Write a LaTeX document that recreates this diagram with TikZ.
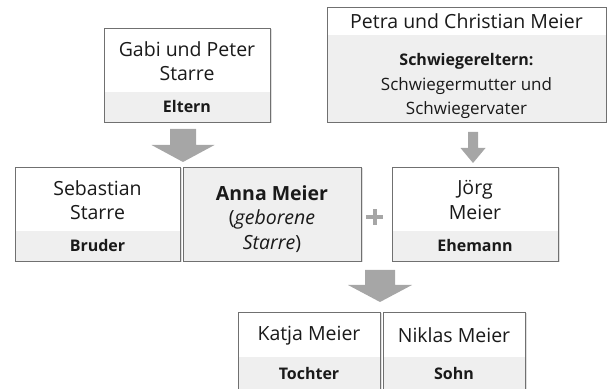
\documentclass[tikz,border=0pt]{standalone}
\usepackage{fontspec}
\setmainfont{Open Sans}
\usetikzlibrary{shadows}
\definecolor{framegray}{HTML}{707070}
\definecolor{bandgray}{HTML}{EFEFEF}
\definecolor{arrowgray}{HTML}{A6A6A6}
\definecolor{textblack}{HTML}{1A1A1A}
\tikzset{
  box/.style={draw=framegray, line width=0.8pt, fill=white, inner sep=0, outer sep=0,
    drop shadow={shadow xshift=1.5pt, shadow yshift=-1.5pt, opacity=0.25},
    path picture={\fill[bandgray] (path picture bounding box.south west)
      rectangle ([yshift=#1]path picture bounding box.south east);}},
  box/.default=30,
  person/.style={align=center, text=textblack, font=\fontsize{19.5}{24.5}\selectfont},
  role/.style={align=center, text=textblack, font=\fontsize{16}{24.5}\selectfont\bfseries},
  grayarrow/.style={fill=arrowgray},
  plusline/.style={draw=arrowgray, line width=4pt}
}
\begin{document}
\begin{tikzpicture}[x=1pt,y=1pt]
    \useasboundingbox (0,0) rectangle (607,388);
    % grandparents
    \node[box, minimum width=166, minimum height=94] (gabi) at (187,313) {};
    \node[person] (gabi-name) at ([yshift=14]gabi.center) {Gabi und Peter\\Starre};
    \node[role] (gabi-role) at ([yshift=15]gabi.south) {Eltern};
    \node[box=87, minimum width=279, minimum height=115] (petra) at (466.5,323.5) {};
    \node[person] (petra-name) at ([yshift=-14]petra.north) {Petra und Christian Meier};
    \node[person, font=\fontsize{17}{24.5}\selectfont] (petra-role) at ([yshift=36]petra.south)
        {\fontsize{16}{24.5}\selectfont\bfseries Schwiegereltern:\\Schwiegermutter und\\Schwiegervater};
    % middle row
    \node[box, minimum width=165, minimum height=94] (sebastian) at (97.5,174) {};
    \node[person] (sebastian-name) at ([yshift=14]sebastian.center) {Sebastian\\Starre};
    \node[role] (sebastian-role) at ([yshift=15]sebastian.south) {Bruder};
    \node[box, fill=bandgray, minimum width=178, minimum height=94] (anna) at (272,174) {};
    \node[person] (anna-name) at ([yshift=-5]anna.center) {\textbf{Anna Meier}\\(\textit{geborene}\\\textit{Starre})};
    \node[box, minimum width=166, minimum height=94] (joerg) at (475,174) {};
    \node[person] (joerg-name) at ([yshift=14]joerg.center) {Jörg\\Meier};
    \node[role] (joerg-role) at ([yshift=15]joerg.south) {Ehemann};
    % children
    \node[box=32, minimum width=142, minimum height=77] (katja) at (309,37.5) {};
    \node[person] (katja-name) at ([yshift=15]katja.center) {Katja Meier};
    \node[role] (katja-role) at ([yshift=16]katja.south) {Tochter};
    \node[box=32, minimum width=142, minimum height=77] (niklas) at (454,37.5) {};
    \node[person] (niklas-name) at ([yshift=15]niklas.center) {Niklas Meier};
    \node[role] (niklas-role) at ([yshift=16]niklas.south) {Sohn};
    % arrows and plus
    \coordinate (tip-starre) at (183,226);
    \coordinate (tip-meier) at (473,225);
    \coordinate (tip-kids) at (380,86);
    \fill[grayarrow] (tip-starre) -- ++(31.5,17) -- ++(-18.5,0) -- ++(0,16) -- ++(-26,0)
        -- ++(0,-16) -- ++(-18.5,0) -- cycle;
    \fill[grayarrow] (tip-meier) -- ++(12.5,15) -- ++(-7.5,0) -- ++(0,16) -- ++(-10,0)
        -- ++(0,-16) -- ++(-7.5,0) -- cycle;
    \fill[grayarrow] (tip-kids) -- ++(32,17) -- ++(-17,0) -- ++(0,15) -- ++(-30,0)
        -- ++(0,-15) -- ++(-17,0) -- cycle;
    \coordinate (plus) at (374.5,171);
    \draw[plusline] ([xshift=-8.5]plus) -- ([xshift=8.5]plus)
        ([yshift=-8]plus) -- ([yshift=8]plus);
\end{tikzpicture}
\end{document}
